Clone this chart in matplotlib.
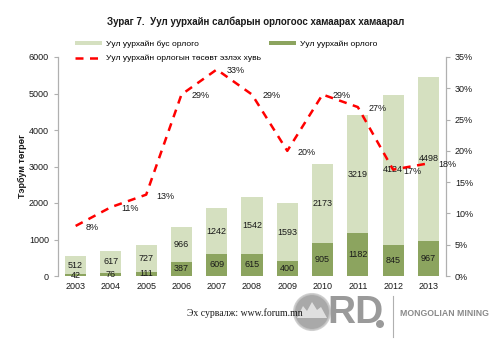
import matplotlib
matplotlib.use("Agg")
import matplotlib.pyplot as plt
from matplotlib.patches import Patch, Circle, Polygon
from matplotlib.lines import Line2D
import numpy as np

years = ["2003", "2004", "2005", "2006", "2007", "2008", "2009", "2010", "2011", "2012", "2013"]
mining = [42, 76, 111, 387, 609, 615, 400, 905, 1182, 845, 967]
non_mining = [512, 617, 727, 966, 1242, 1542, 1593, 2173, 3219, 4124, 4498]
share_pct = [8, 11, 13, 29, 33, 29, 20, 29, 27, 17, 18]

left_ticks = [0, 1000, 2000, 3000, 4000, 5000, 6000]
right_ticks = [0, 5, 10, 15, 20, 25, 30, 35]

title = "Зураг 7.  Уул уурхайн салбарын орлогоос хамаарах хамаарал"
lbl_non = "Уул уурхайн бус орлого"
lbl_min = "Уул уурхайн орлого"
lbl_pct = "Уул уурхайн орлогын төсөвт эзлэх хувь"
ylabel = "Тэрбум төгрөг"
source = "Эх сурвалж: www.forum.mn"

light = "#d5e0c0"
dark = "#8ca45f"
red = "#ff0000"
axis_gray = "#b0b0b0"
txt = "#1a1a1a"

plt.rcParams["font.family"] = ["Liberation Sans", "DejaVu Sans"]

fig = plt.figure(figsize=(5.0, 3.48), dpi=100)
ax = fig.add_axes([58/500, 1-276/348, (446-58)/500, (276-57)/348])
ax2 = ax.twinx()

x = np.arange(len(years))
w = 0.6
ax.bar(x, mining, w, color=dark, zorder=2)
ax.bar(x, non_mining, w, bottom=mining, color=light, zorder=2)

for i in range(len(years)):
    ax.text(x[i], mining[i] / 2, str(mining[i]), ha="center", va="center",
            fontsize=6.5, color=txt, zorder=3)
    ax.text(x[i], mining[i] + non_mining[i] / 2, str(non_mining[i]), ha="center",
            va="center", fontsize=6.5, color=txt, zorder=3)

ax.set_xlim(-0.5, len(years) - 0.5)
ax.set_ylim(0, 6000)
ax.set_yticks(left_ticks)
ax.set_xticks(x)
ax.set_xticklabels(years)
ax.set_ylabel(ylabel, fontsize=6.5, fontweight="bold", color=txt, labelpad=1)

ax2.plot(x, share_pct, color=red, lw=1.8, dashes=(3.2, 2.6), zorder=4)
ax2.set_ylim(0, 35)
ax2.set_yticks(right_ticks)
ax2.set_yticklabels([f"{t}%" for t in right_ticks])
for i in range(len(years)):
    ax2.annotate(f"{share_pct[i]}%", (x[i], share_pct[i]), xytext=(7.5, -1),
                 textcoords="offset points", ha="left", va="center",
                 fontsize=6.5, color=txt)

for a in (ax, ax2):
    for s in ("top", "bottom"):
        a.spines[s].set_visible(False)
    for s in ("left", "right"):
        a.spines[s].set_color(axis_gray)
        a.spines[s].set_linewidth(0.8)
    a.tick_params(axis="y", labelsize=6.5, colors=axis_gray, labelcolor=txt,
                  length=3, width=0.8)
    a.tick_params(axis="x", labelsize=6.5, length=0, labelcolor=txt, pad=4)

ax2.patch.set_visible(False)

handles = [Patch(facecolor=light, edgecolor="none"),
           Line2D([0], [0], color=red, lw=1.8, dashes=(3.2, 2.6)),
           Patch(facecolor=dark, edgecolor="none")]
labels = [lbl_non, lbl_pct, lbl_min]
fig.legend(handles, labels, ncol=2, loc="upper left",
           bbox_to_anchor=(67/500, 1-33/348), frameon=False, fontsize=6,
           handlelength=3.3, handleheight=0.5, columnspacing=0.9,
           labelspacing=0.85, handletextpad=0.5)

fig.text(256/500, 1-22/348, title, ha="center", va="center", fontsize=7,
         fontweight="bold", color=txt)

fig.text(187/500, 1-313/348, source, ha="left", va="center", fontsize=7,
         family=["Liberation Serif", "DejaVu Serif"], color=txt)

# logo
logo_ax = fig.add_axes([0, 0, 1, 1], facecolor="none")
logo_ax.set_xlim(0, 500)
logo_ax.set_ylim(348, 0)
logo_ax.axis("off")
logo_ax.add_patch(Circle((312, 312), 18, facecolor="#9a9a9a", edgecolor="#c8c8c8",
                         lw=1.5, alpha=0.85))
logo_ax.add_patch(Polygon([[297, 318], [303, 306], [307, 311], [312, 302], [317, 310],
                           [321, 307], [327, 318]], closed=True,
                          facecolor="#e6e6e6", edgecolor="none", alpha=0.9))
logo_ax.text(327, 313, "RD", fontsize=28, fontweight="bold", color="#9a9a9a",
             ha="left", va="center")
logo_ax.add_patch(Circle((380, 324), 4, facecolor="#9a9a9a", edgecolor="none"))
logo_ax.plot([393, 393], [296, 337], color="#b0b0b0", lw=0.8)
logo_ax.text(400, 313, "MONGOLIAN MINING", fontsize=6.3, fontweight="bold",
             color="#8a8a8a", ha="left", va="center")

fig.savefig("out.png", dpi=100)
